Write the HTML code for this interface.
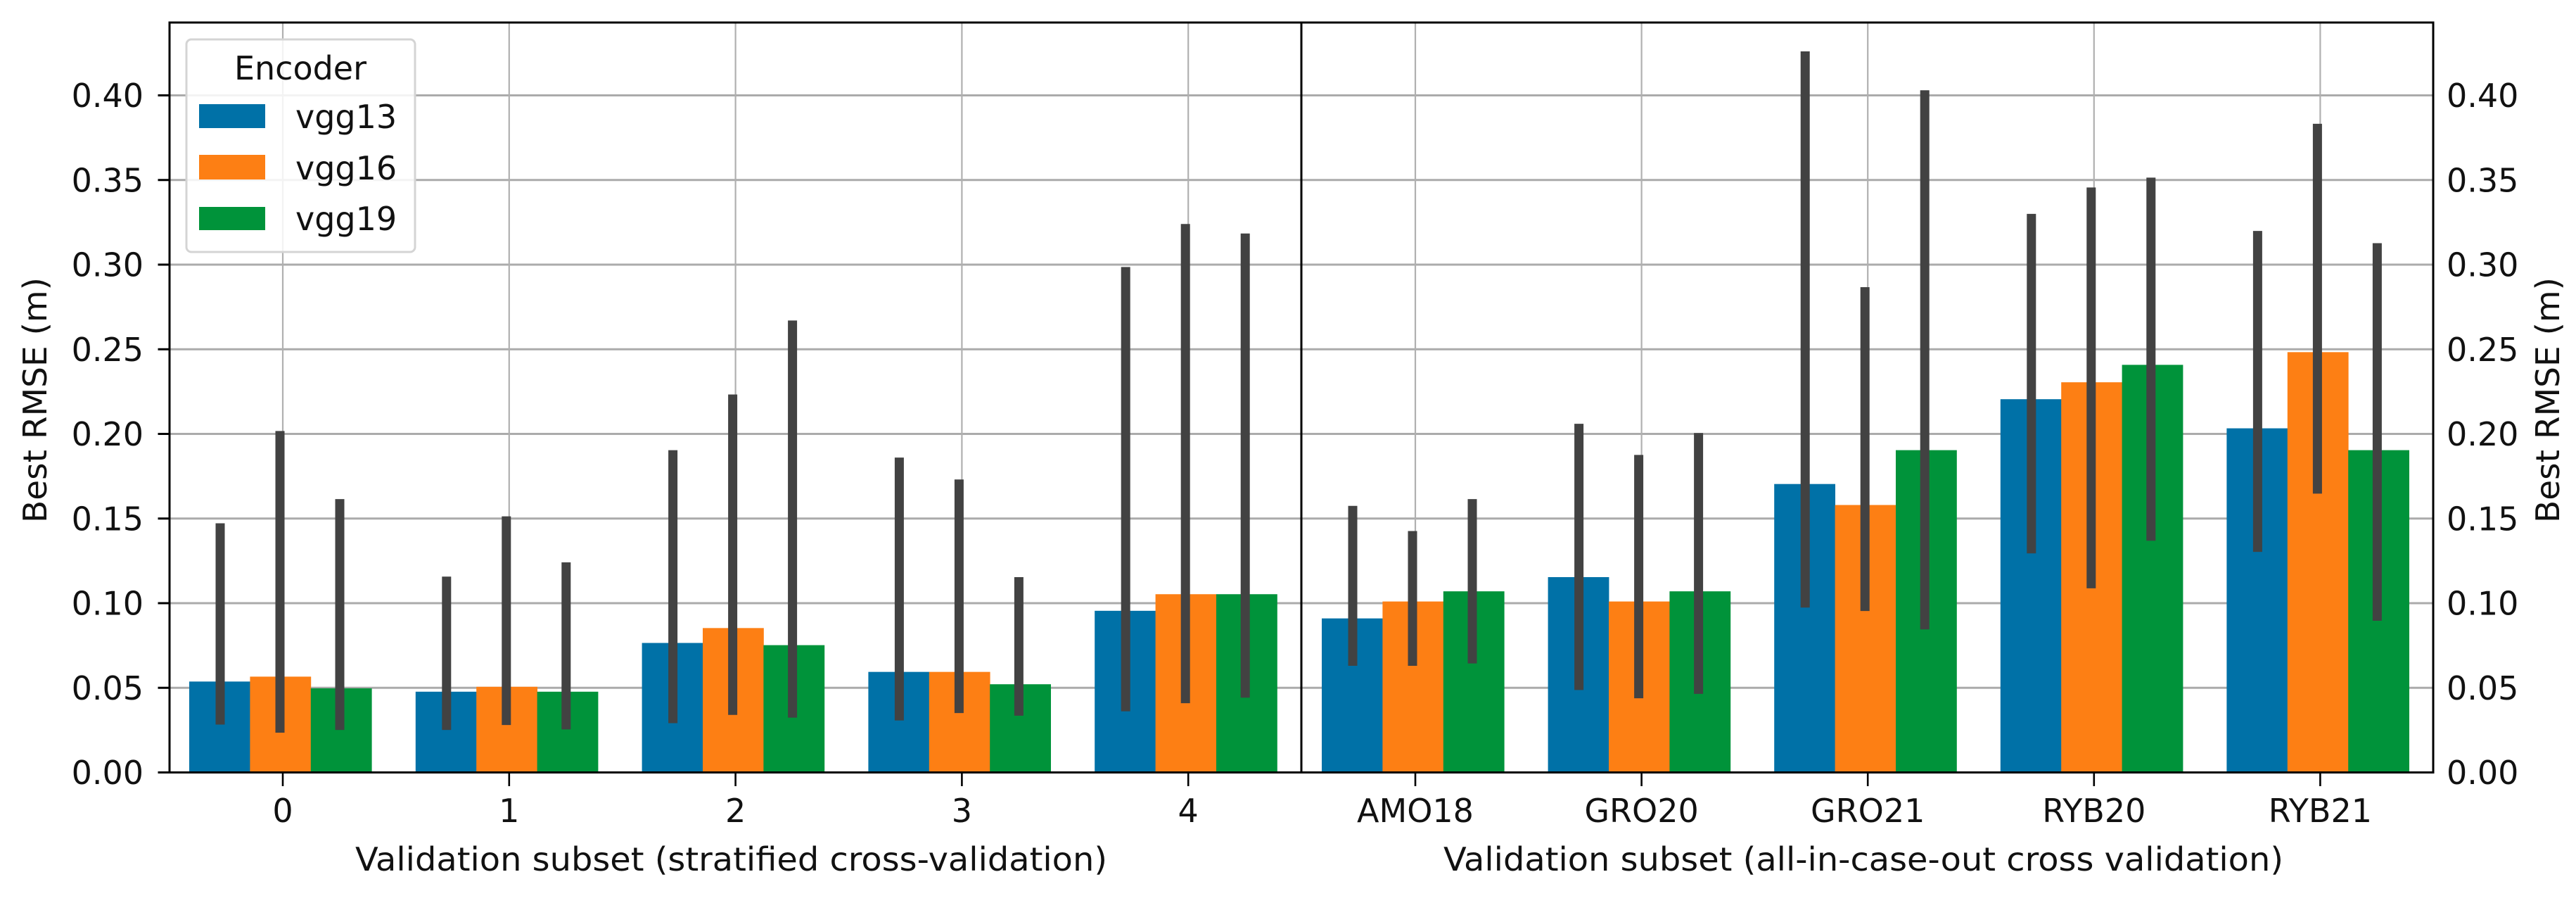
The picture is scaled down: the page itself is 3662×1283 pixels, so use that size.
<!DOCTYPE html>
<html lang="en">
<head>
<meta charset="utf-8">
<title>Best RMSE by validation subset</title>
<style>
html,body{margin:0;padding:0;background:#fff;width:3662px;height:1283px;overflow:hidden}
svg{display:block}
text{font-family:"DejaVu Sans","Liberation Sans",sans-serif;fill:#111}
</style>
</head>
<body>
<svg id="chart" xmlns="http://www.w3.org/2000/svg" width="3662" height="1283" viewBox="0 0 3662 1283">
  <rect x="0" y="0" width="3662" height="1283" fill="#fff"/>
  <g id="grid"></g>
  <g id="bars"></g>
  <g id="errs"></g>
  <g>
    <rect x="265" y="56" width="325" height="302" rx="7" ry="7" fill="#fff" fill-opacity="0.85" stroke="#d4d4d4" stroke-width="3"/>
    <text x="427" y="113" font-size="46" text-anchor="middle">Encoder</text>
    <rect x="283" y="148" width="94" height="34" fill="#0071a7"/>
    <text x="420" y="182" font-size="46">vgg13</text>
    <rect x="283" y="220" width="94" height="35" fill="#fd7f14"/>
    <text x="420" y="255" font-size="46">vgg16</text>
    <rect x="283" y="294" width="94" height="33" fill="#00933a"/>
    <text x="420" y="327" font-size="46">vgg19</text>
  </g>
  <g id="axes"></g>
  <text transform="translate(66,743) rotate(-90)" font-size="46" textLength="349" lengthAdjust="spacingAndGlyphs">Best RMSE (m)</text>
  <text transform="translate(3638,743) rotate(-90)" font-size="46" textLength="349" lengthAdjust="spacingAndGlyphs">Best RMSE (m)</text>
  <text x="505" y="1237" font-size="46" textLength="1069" lengthAdjust="spacingAndGlyphs">Validation subset (stratified cross-validation)</text>
  <text x="2052" y="1237" font-size="46" textLength="1194" lengthAdjust="spacingAndGlyphs">Validation subset (all-in-case-out cross validation)</text>
</svg>
<script>
const leftCategories = ['0', '1', '2', '3', '4'];
const rightCategories = ['AMO18', 'GRO20', 'GRO21', 'RYB20', 'RYB21'];
const yTicks = [0, 0.05, 0.10, 0.15, 0.20, 0.25, 0.30, 0.35, 0.40];

const vgg13Means = [0.0537, 0.0477, 0.0765, 0.0594, 0.0955, 0.091, 0.1154, 0.1704, 0.2205, 0.2033];
const vgg16Means = [0.0566, 0.0506, 0.0853, 0.0594, 0.1053, 0.101, 0.101, 0.158, 0.2305, 0.2483];
const vgg19Means = [0.0497, 0.0477, 0.0752, 0.0521, 0.1053, 0.107, 0.107, 0.1904, 0.2408, 0.1904];

const vgg13Low = [0.0283, 0.0251, 0.0291, 0.0307, 0.0361, 0.063, 0.0487, 0.0974, 0.1294, 0.1303];
const vgg13High = [0.1472, 0.1157, 0.1904, 0.186, 0.2986, 0.1575, 0.206, 0.426, 0.33, 0.3199];
const vgg16Low = [0.0235, 0.028, 0.034, 0.0351, 0.0409, 0.063, 0.0438, 0.0954, 0.1088, 0.1647];
const vgg16High = [0.2017, 0.1513, 0.2233, 0.1731, 0.324, 0.1426, 0.1876, 0.2867, 0.3456, 0.3832];
const vgg19Low = [0.0251, 0.0254, 0.0324, 0.0335, 0.0442, 0.0644, 0.0464, 0.0845, 0.1369, 0.0896];
const vgg19High = [0.1615, 0.1241, 0.267, 0.1154, 0.3184, 0.1615, 0.2005, 0.403, 0.3514, 0.3127];

const seriesNames = ['vgg13', 'vgg16', 'vgg19'];
const seriesMeans = [vgg13Means, vgg16Means, vgg19Means];
const seriesLow = [vgg13Low, vgg16Low, vgg19Low];
const seriesHigh = [vgg13High, vgg16High, vgg19High];
const seriesColors = ['#0071a7', '#fd7f14', '#00933a'];

const NS = 'http://www.w3.org/2000/svg';
const plotLeft = 241, plotMid = 1850, plotRight = 3459, plotTop = 32, plotBottom = 1097.5;
const yPerUnit = 2405;
const barWidth = 86.4;

function yScale(v) { return plotBottom - v * yPerUnit; }
function xScale(i) { return i < 5 ? 402 + 321.8 * i : 2012 + 321.6 * (i - 5); }

function make(tag, attrs, parent) {
  const el = document.createElementNS(NS, tag);
  for (const k in attrs) el.setAttribute(k, attrs[k]);
  parent.appendChild(el);
  return el;
}

const gridG = document.getElementById('grid');
const barsG = document.getElementById('bars');
const errsG = document.getElementById('errs');
const axesG = document.getElementById('axes');
const categories = leftCategories.concat(rightCategories);

yTicks.forEach(function (t) {
  if (t === 0) return;
  const line = make('line', { x1: plotLeft, x2: plotRight, y1: yScale(t), y2: yScale(t), stroke: '#ababab', 'stroke-width': 3 }, gridG);
  
  
});
categories.forEach(function (c, i) {
  const line = make('line', { x1: xScale(i), x2: xScale(i), y1: plotTop, y2: plotBottom, stroke: '#b0b0b0', 'stroke-width': 2.2 }, gridG);
  
  
});

seriesNames.forEach(function (name, s) {
  categories.forEach(function (c, i) {
    const top = yScale(seriesMeans[s][i]);
    const bar = make('rect', { x: xScale(i) - 133 + s * barWidth, y: top, width: barWidth + 0.4, height: plotBottom - top, fill: seriesColors[s] }, barsG);
    
    
  });
});
seriesNames.forEach(function (name, s) {
  categories.forEach(function (c, i) {
    const ex = xScale(i) - 4 + (s - 1) * 85;
    const err = make('line', { x1: ex, x2: ex, y1: yScale(seriesLow[s][i]), y2: yScale(seriesHigh[s][i]), stroke: '#424242', 'stroke-width': 13 }, errsG);
    
    
  });
});

yTicks.forEach(function (t) {
  const y = yScale(t);
  const mark = make('line', { x1: 224.5, x2: plotLeft, y1: y, y2: y, stroke: '#000', 'stroke-width': 3 }, axesG);
  
  
  const left = make('text', { x: 204, y: y + 16.5, 'font-size': 46, 'text-anchor': 'end' }, axesG);
  left.textContent = t.toFixed(2);
  
  
  const right = make('text', { x: 3478, y: y + 16.5, 'font-size': 46 }, axesG);
  right.textContent = t.toFixed(2);
  
  
});

categories.forEach(function (c, i) {
  const x = xScale(i);
  const mark = make('line', { x1: x, x2: x, y1: plotBottom, y2: 1117, stroke: '#000', 'stroke-width': 2.6 }, axesG);
  
  
  const label = make('text', { x: x, y: 1168, 'font-size': 46, 'text-anchor': 'middle' }, axesG);
  label.textContent = c;
  
  
});

const frame = make('rect', { x: plotLeft, y: plotTop, width: plotRight - plotLeft, height: plotBottom - plotTop, fill: 'none', stroke: '#000', 'stroke-width': 3 }, axesG);


const divider = make('line', { x1: plotMid, x2: plotMid, y1: plotTop, y2: plotBottom, stroke: '#000', 'stroke-width': 3 }, axesG);


</script>
</body>
</html>
